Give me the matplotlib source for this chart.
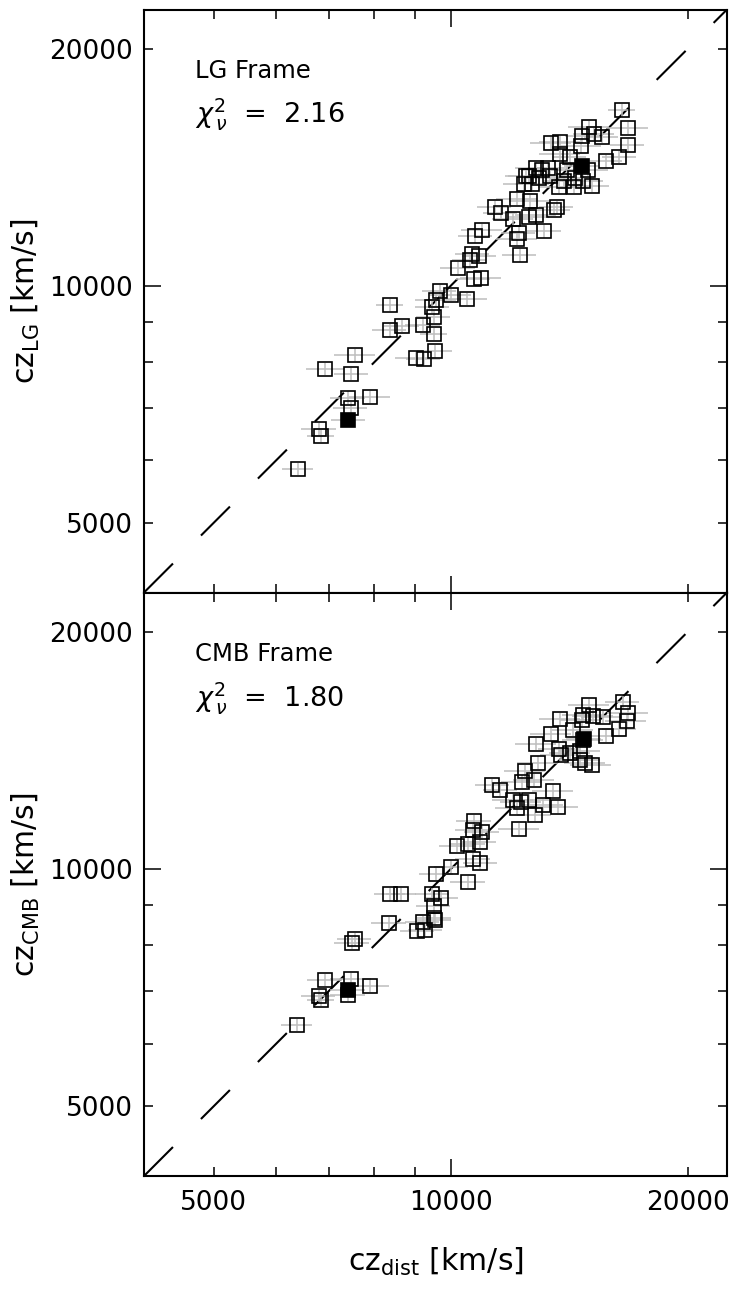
import numpy as np
import matplotlib
matplotlib.use("Agg")
import matplotlib.pyplot as plt
from matplotlib.ticker import LogLocator, FuncFormatter

plt.rcParams['font.family'] = ['DejaVu Sans']
plt.rcParams['mathtext.fontset'] = 'dejavusans'
plt.rcParams['lines.scale_dashes'] = False

# ---------------- data ----------------
# LG frame panel: distance-based cz vs LG-frame redshift (km/s)
lg_czdist = [6390, 6800, 6840, 7465, 7400, 7905, 6930, 7475, 7555, 8365,
             8670, 8365, 9025, 9240, 9550, 9220, 9515, 9515, 9480, 9590,
             9685, 10020, 10490, 10215, 10575, 10655, 10865, 10695, 10920, 10750,
             10950, 11375, 11580, 12000, 12145, 12240, 12145, 12195, 12630, 12580,
             12830, 13145, 13520, 13630, 12455, 12395, 12705, 12830, 13065, 12950,
             13365, 13720, 13925, 14035, 13430, 13790, 13760, 14170, 14635, 14690,
             14995, 15215, 15550, 14380, 14735, 15130, 15745, 16370, 16780, 16810,
             16490, 14940, 14340, 13285, 12565]
lg_cz = [5845, 6570, 6445, 6990, 7210, 7230, 7835, 7720, 8170, 8775,
         8895, 9460, 8090, 8070, 8265, 8920, 8680, 9140, 9395, 9600,
         9835, 9740, 9625, 10530, 10770, 10990, 10920, 10200, 10235, 11555,
         11760, 12605, 12375, 12160, 12890, 10930, 11475, 11680, 12830, 12240,
         12310, 11725, 12495, 12580, 13800, 13470, 13470, 14115, 14045, 13710,
         13775, 13355, 13600, 14045, 15190, 15215, 14710, 14565, 15040, 15485,
         15920, 15595, 15460, 13710, 13575, 13405, 14390, 14580, 15115, 15870,
         16710, 14045, 13365, 14130, 13800]
lg_xerr_pct = [4.5, 5, 4, 5, 5, 6, 5.5, 5, 6, 5,
               5, 4, 6, 5, 5, 5, 4, 5, 5, 6,
               5, 6, 6, 5, 5, 5, 5, 5, 6, 5,
               6, 5, 5, 6, 6, 5, 6, 5, 6, 6,
               6, 5, 5, 5, 6, 6, 5, 6, 6, 5,
               6, 6, 6, 6, 6, 6, 6, 5, 6, 5,
               6, 6, 5, 6, 6, 5, 5, 5, 5, 6,
               4, 6, 5, 6, 6]
lg_special_x = [7410, 14665]
lg_special_y = [6755, 14185]

# CMB frame panel
cmb_czdist = [6375, 6795, 6835, 6920, 7400, 7475, 7905, 7490, 7550, 8345,
              9070, 9285, 9210, 9540, 9515, 8365, 8655, 9525, 9480, 9730,
              9590, 10020, 10520, 10185, 10520, 10675, 10910, 10885, 10675, 10705,
              10960, 11300, 11565, 12215, 12125, 12000, 12300, 12580, 12790, 13105,
              13495, 13695, 12335, 12750, 12445, 12915, 12830, 13430, 13735, 13830,
              14170, 14590, 14810, 15100, 14590, 13760, 14310, 14665, 14735, 14735,
              15170, 15595, 14995, 15745, 16370, 16730, 16810, 16535]
cmb_cz = [6335, 6900, 6815, 7225, 6915, 7240, 7105, 8060, 8140, 8530,
          8345, 8365, 8570, 8610, 8975, 9285, 9285, 8670, 9285, 9175,
          9855, 10070, 9635, 10705, 10760, 10295, 10185, 10815, 11210, 11510,
          11155, 12790, 12605, 11245, 11945, 12240, 12180, 12240, 11715, 12060,
          12580, 12000, 12915, 12980, 13325, 13655, 14420, 14850, 14210, 13965,
          14035, 13760, 13630, 13560, 14130, 15505, 15025, 15475, 14590, 15700,
          15625, 15595, 16170, 14765, 15070, 15395, 15805, 16275]
cmb_xerr_pct = [4.5, 5, 4, 5, 5, 6, 5.5, 5, 5, 5,
                5, 5, 5, 5, 5, 4.5, 4.5, 5, 5, 5,
                5, 5, 5, 5, 5, 5, 5, 5, 5, 5,
                5, 5, 5, 6, 6, 6, 6, 6, 5, 6,
                6, 6, 6, 6, 6, 6, 6, 6, 6, 6,
                6, 6, 6, 6, 6, 6, 6, 6, 6, 6,
                6, 6, 6, 6, 5, 6, 6, 5]
cmb_special_x = [7400, 14765]
cmb_special_y = [7030, 14635]

yerr_frac = 0.018
axis_range = [4075, 22450]
panel_frames = ["LG Frame", "CMB Frame"]
panel_chi2 = ["2.16", "1.80"]
panel_ylabels = [r"cz$_{\rm LG}$ [km/s]", r"cz$_{\rm CMB}$ [km/s]"]
xlabel = r"cz$_{\rm dist}$ [km/s]"
labeled_ticks = [5000, 10000, 20000]

# ---------------- figure ----------------
fig = plt.figure(figsize=(7.37, 12.90), dpi=100)
left = 144 / 737
width = 583 / 737
ax_top = fig.add_axes([left, (1290 - 592.5) / 1290, width, 583 / 1290])
ax_bot = fig.add_axes([left, (1290 - 1176) / 1290, width, 583.5 / 1290])

panels = [
    (ax_top, lg_czdist, lg_cz, lg_xerr_pct, lg_special_x, lg_special_y),
    (ax_bot, cmb_czdist, cmb_cz, cmb_xerr_pct, cmb_special_x, cmb_special_y),
]

def lab(v, pos):
    for t in labeled_ticks:
        if abs(v - t) < 1:
            return f"{t}"
    return ""

for i, (ax, xd, yd, xe, sx, sy) in enumerate(panels):
    xd = np.array(xd, float)
    yd = np.array(yd, float)
    xerr = xd * np.array(xe) / 100.0
    yerr = yd * yerr_frac
    ax.set_xscale('log')
    ax.set_yscale('log')
    ax.set_xlim(axis_range)
    ax.set_ylim(axis_range)

    # unity line (dashed)
    ax.plot(axis_range, axis_range, color='black', lw=1.5,
            dashes=(29.5, 28.5), zorder=1, solid_capstyle='butt')

    ax.errorbar(xd, yd, xerr=xerr, yerr=yerr, fmt='none',
                ecolor='#bdbdbd', elinewidth=1.1, capsize=0, zorder=2)
    ax.plot(xd, yd, 's', ms=9.6, mfc='none', mec='black', mew=1.2, zorder=3)

    sxa = np.array(sx, float)
    sya = np.array(sy, float)
    ax.errorbar(sxa, sya, xerr=sxa * 0.05, yerr=sya * yerr_frac, fmt='none',
                ecolor='#bdbdbd', elinewidth=1.1, capsize=0, zorder=2)
    ax.plot(sxa, sya, 's', ms=9.6, mfc='black', mec='black', mew=1.2, zorder=4)

    for a in (ax.xaxis, ax.yaxis):
        a.set_major_locator(LogLocator(base=10))
        a.set_minor_locator(LogLocator(base=10, subs=(2, 3, 4, 5, 6, 7, 8, 9)))
        a.set_major_formatter(FuncFormatter(lab))
        a.set_minor_formatter(FuncFormatter(lab))

    ax.tick_params(which='both', direction='in', top=True, right=True,
                   labelsize=19, width=1.1, colors='black')
    ax.tick_params(which='major', length=12.5, pad=8)
    ax.tick_params(which='minor', length=6.5, pad=8)
    ax.tick_params(axis='x', which='both', pad=10)
    for s in ax.spines.values():
        s.set_linewidth(1.5)

    ax.text(0.0875, 0.895, panel_frames[i], transform=ax.transAxes,
            fontsize=17.5, ha='left', va='center')
    ax.text(0.0875, 0.82, r"$\chi^{2}_{\,\nu}$  =  " + panel_chi2[i],
            transform=ax.transAxes, fontsize=19.5, ha='left', va='center')

    ax.set_ylabel(panel_ylabels[i], fontsize=21.5)
    ax.yaxis.set_label_coords(-0.175, 0.5)

ax_top.tick_params(axis='x', which='both', labelbottom=False)
ax_bot.set_xlabel(xlabel, fontsize=21.5)
ax_bot.xaxis.set_label_coords(0.5, -0.12)

fig.savefig("out.png", dpi=100)
